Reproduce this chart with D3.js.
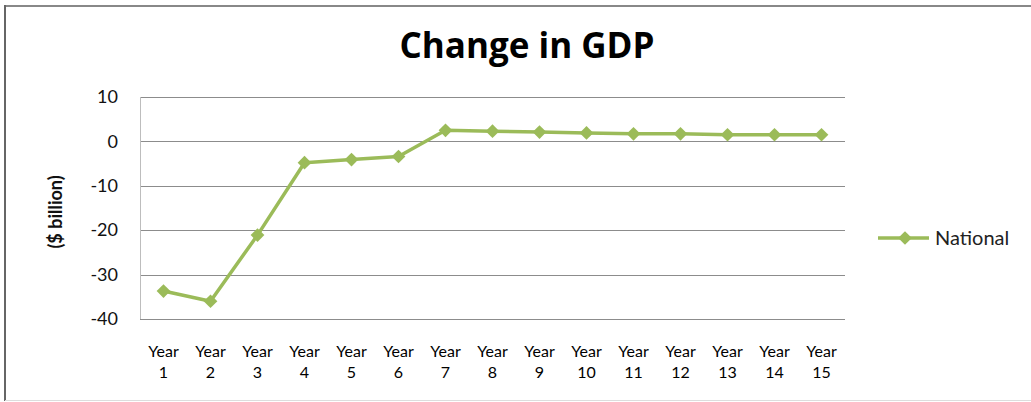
<!DOCTYPE html>
<html><head><meta charset="utf-8">
<script src="https://cdn.jsdelivr.net/npm/d3@7"></script>
<style>body{margin:0;background:#fff;} svg{display:block;}</style>
</head><body>
<svg id="c" width="1031" height="402"></svg>
<script>
const categories = ["Year 1","Year 2","Year 3","Year 4","Year 5","Year 6","Year 7","Year 8","Year 9","Year 10","Year 11","Year 12","Year 13","Year 14","Year 15"];
const national = [-33.7,-36.0,-21.1,-4.8,-4.1,-3.4,2.5,2.3,2.1,1.9,1.7,1.7,1.5,1.5,1.5];
const yTicks = [-40,-30,-20,-10,0,10];
const seriesName = "National";
const title = "Change in GDP";
const yTitle = "($ billion)";

const svg = d3.select("#c");
const W = 1031, H = 402;
const m = {left:140, right:186, top:97, bottom:83};
const green = "#9bbb59";
const font = "'Liberation Sans Narrow', Lato, 'Open Sans', sans-serif";
const font2 = "Lato, 'Open Sans', sans-serif";

// frame
svg.append("line").attr("x1",4).attr("x2",W).attr("y1",6).attr("y2",6)
  .attr("stroke","#888").attr("stroke-width",2);
svg.append("line").attr("x1",5).attr("x2",5).attr("y1",5).attr("y2",401)
  .attr("stroke","#666").attr("stroke-width",2);
svg.append("line").attr("x1",5).attr("x2",W).attr("y1",400.5).attr("y2",400.5)
  .attr("stroke","#ddd").attr("stroke-width",1);

const x = d3.scaleBand().domain(categories).range([m.left, W-m.right]);
const y = d3.scaleLinear().domain([-40,10]).range([H-m.bottom, m.top]);

// gridlines
svg.append("g").selectAll("line").data(yTicks).join("line")
  .attr("x1",m.left).attr("x2",W-m.right)
  .attr("y1",d=>Math.round(y(d))+0.5).attr("y2",d=>Math.round(y(d))+0.5)
  .attr("stroke","#8c8c8c").attr("stroke-width",1);
// y axis line
svg.append("line").attr("x1",m.left+0.5).attr("x2",m.left+0.5)
  .attr("y1",y(10)).attr("y2",y(-40)).attr("stroke","#bdbdbd");

// y axis labels
const yAxis = d3.axisLeft(y).tickValues(yTicks).tickSize(0).tickPadding(22).tickFormat(d=>String(d));
const ya = svg.append("g").attr("transform",`translate(${m.left},0)`).call(yAxis);
ya.select(".domain").remove();
ya.selectAll("text").attr("font-family",font2).attr("font-size",18).attr("fill","#111");

// x axis labels (two lines)
const xa = svg.append("g");
xa.selectAll("text").data(categories).join("text")
  .attr("x",d=>x(d)+x.bandwidth()/2).attr("y",357)
  .attr("text-anchor","middle").attr("font-family",font).attr("font-size",16).attr("fill","#000")
  .each(function(d){
    const parts = d.split(" ");
    const t = d3.select(this);
    t.append("tspan").attr("x",x(d)+x.bandwidth()/2).text(parts[0]);
    t.append("tspan").attr("x",x(d)+x.bandwidth()/2).attr("dy",21).text(parts[1]);
  });

// title
svg.append("text").attr("x",527).attr("y",58).attr("text-anchor","middle")
  .attr("font-family","'Open Sans', sans-serif").attr("font-weight","bold").attr("font-size",35)
  .attr("fill","#000").text(title);

// y title
svg.append("text").attr("transform","translate(62,212) rotate(-90)").attr("text-anchor","middle")
  .attr("font-family",font2).attr("font-weight","bold").attr("font-size",18).attr("fill","#111").text(yTitle);

// line
const line = d3.line().x((d,i)=>x(categories[i])+x.bandwidth()/2).y(d=>y(d));
svg.append("path").datum(national).attr("d",line).attr("fill","none")
  .attr("stroke",green).attr("stroke-width",3.5).attr("stroke-linejoin","round");

const diamond = d3.symbol().type(d3.symbolDiamond2).size(120);
svg.append("g").selectAll("path").data(national).join("path")
  .attr("transform",(d,i)=>`translate(${x(categories[i])+x.bandwidth()/2},${y(d)})`)
  .attr("d",diamond).attr("fill",green);

// legend
svg.append("line").attr("x1",878).attr("x2",929).attr("y1",238).attr("y2",238)
  .attr("stroke",green).attr("stroke-width",3.5);
svg.append("path").attr("transform","translate(905,238)").attr("d",diamond).attr("fill",green);
svg.append("text").attr("x",935).attr("y",245).attr("font-family",font2).attr("font-size",20)
  .attr("fill","#222").text(seriesName);
</script>
</body></html>
